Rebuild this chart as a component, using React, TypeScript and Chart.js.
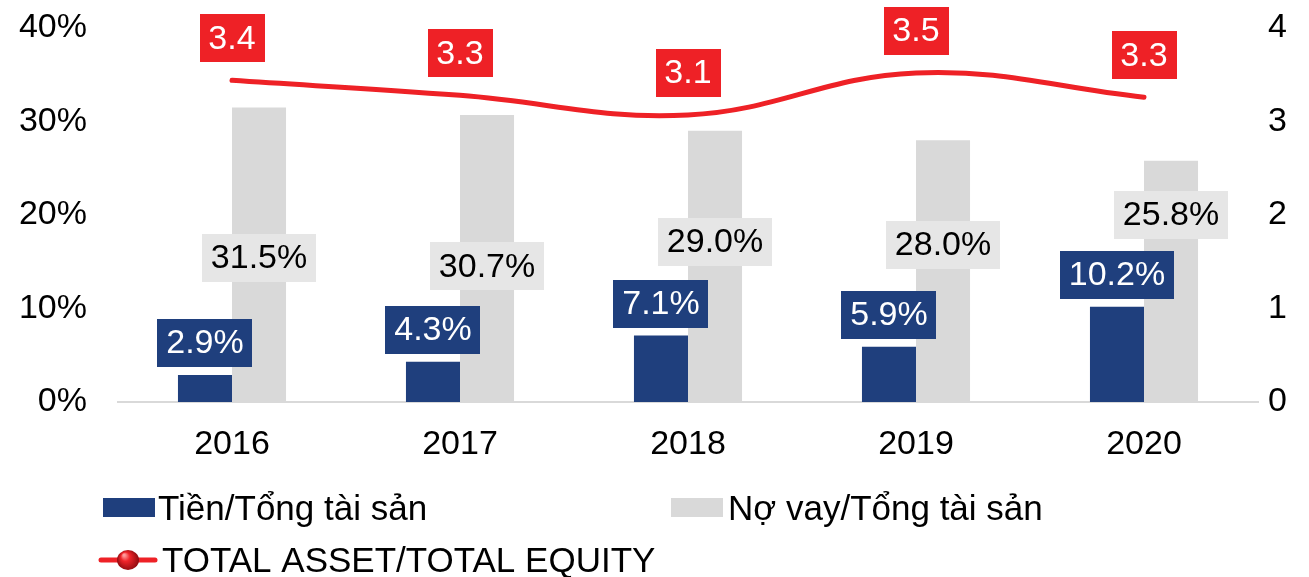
import React, { useEffect, useRef } from 'react';
import { Chart, registerables } from 'chart.js';

Chart.register(...registerables);

// ---- data ----
const years = ['2016', '2017', '2018', '2019', '2020'];
const cashToAssets = [2.9, 4.3, 7.1, 5.9, 10.2]; // Tiền/Tổng tài sản (%)
const debtToAssets = [31.5, 30.7, 29.0, 28.0, 25.8]; // Nợ vay/Tổng tài sản (%)
const assetToEquity = [3.44, 3.28, 3.07, 3.52, 3.26]; // TOTAL ASSET/TOTAL EQUITY
const leftTickValues = [0, 10, 20, 30, 40];
const rightTickValues = [0, 1, 2, 3, 4];
// where the grey value boxes sit (in % units of the left axis)
const debtLabelAnchor = [15.4, 14.5, 17.1, 16.8, 20.0];

const seriesNames = ['Tiền/Tổng tài sản', 'Nợ vay/Tổng tài sản', 'TOTAL ASSET/TOTAL EQUITY'];

// ---- styles ----
const FONT = '"Liberation Sans", Arial, sans-serif';
const NAVY = '#1F3F7D';
const BAR_GRAY = '#D9D9D9';
const LABEL_GRAY = '#E6E6E6';
const RED = '#EE2126';

const valueBoxes = {
  id: 'valueBoxes',
  afterDatasetsDraw(chart: any) {
    const ctx = chart.ctx;
    const yScale = chart.scales.y;
    ctx.save();
    ctx.font = `34px ${FONT}`;
    ctx.textAlign = 'center';
    ctx.textBaseline = 'middle';
    const box = (cx: number, cy: number, text: string, fill: string, color: string) => {
      const w = Math.round(ctx.measureText(text).width + 18);
      const h = 48;
      ctx.fillStyle = fill;
      ctx.fillRect(Math.round(cx - w / 2), Math.round(cy - h / 2), w, h);
      ctx.fillStyle = color;
      ctx.fillText(text, cx, cy + 1);
    };
    chart.getDatasetMeta(0).data.forEach((el: any, i: number) => {
      box(el.x, el.y - 8 - 24, cashToAssets[i].toFixed(1) + '%', NAVY, '#FFFFFF');
    });
    chart.getDatasetMeta(1).data.forEach((el: any, i: number) => {
      box(el.x, yScale.getPixelForValue(debtLabelAnchor[i]), debtToAssets[i].toFixed(1) + '%', LABEL_GRAY, '#000000');
    });
    chart.getDatasetMeta(2).data.forEach((el: any, i: number) => {
      box(el.x, el.y - 42, assetToEquity[i].toFixed(1), RED, '#FFFFFF');
    });
    ctx.restore();
  },
};

const customLegend = {
  id: 'customLegend',
  afterDraw(chart: any) {
    const ctx = chart.ctx;
    ctx.save();
    ctx.font = `35px ${FONT}`;
    ctx.textAlign = 'left';
    ctx.textBaseline = 'alphabetic';
    // row 1
    ctx.fillStyle = NAVY;
    ctx.fillRect(103, 498, 52, 19);
    ctx.fillStyle = '#000000';
    ctx.fillText(seriesNames[0], 158, 520);
    ctx.fillStyle = BAR_GRAY;
    ctx.fillRect(671, 498, 52, 19);
    ctx.fillStyle = '#000000';
    ctx.fillText(seriesNames[1], 728, 520);
    // row 2
    ctx.strokeStyle = RED;
    ctx.lineWidth = 5;
    ctx.lineCap = 'round';
    ctx.beginPath();
    ctx.moveTo(101, 560);
    ctx.lineTo(155, 560);
    ctx.stroke();
    const g = ctx.createRadialGradient(124, 555, 1, 128, 560, 11);
    g.addColorStop(0, '#FF9A9A');
    g.addColorStop(0.35, '#F0252A');
    g.addColorStop(1, '#8E0A0E');
    ctx.fillStyle = g;
    ctx.beginPath();
    ctx.ellipse(128, 560, 11, 10, 0, 0, Math.PI * 2);
    ctx.fill();
    ctx.fillStyle = '#000000';
    ctx.fillText(seriesNames[2], 162, 572);
    ctx.restore();
  },
};

export default function App() {
  const canvasRef = useRef<HTMLCanvasElement | null>(null);

  useEffect(() => {
    if (!canvasRef.current) return;
    const chart = new Chart(canvasRef.current, {
      type: 'bar',
      data: {
        labels: years,
        datasets: [
          {
            type: 'bar',
            label: seriesNames[0],
            data: cashToAssets,
            backgroundColor: NAVY,
            yAxisID: 'y',
            order: 1,
            categoryPercentage: 0.474,
            barPercentage: 1,
          },
          {
            type: 'bar',
            label: seriesNames[1],
            data: debtToAssets,
            backgroundColor: BAR_GRAY,
            yAxisID: 'y',
            order: 1,
            categoryPercentage: 0.474,
            barPercentage: 1,
          },
          {
            type: 'line',
            label: seriesNames[2],
            data: assetToEquity,
            borderColor: RED,
            backgroundColor: RED,
            borderWidth: 5,
            borderCapStyle: 'round',
            tension: 0.4,
            pointRadius: 0,
            pointHoverRadius: 0,
            yAxisID: 'y1',
            order: 0,
          },
        ] as any,
      },
      options: {
        animation: false,
        responsive: false,
        maintainAspectRatio: false,
        layout: { padding: { top: 28, left: 0, right: 0, bottom: 0 } },
        plugins: {
          legend: { display: false },
          tooltip: { enabled: false },
        },
        scales: {
          x: {
            grid: { display: false, drawTicks: false },
            border: { display: true, color: BAR_GRAY, width: 2 },
            ticks: { color: '#000000', font: { family: FONT, size: 34 }, padding: 22 },
            afterFit: (s: any) => { s.height = 175; },
          },
          y: {
            position: 'left',
            min: 0,
            max: 40,
            afterBuildTicks: (s: any) => { s.ticks = leftTickValues.map((v) => ({ value: v })); },
            grid: { display: false, drawTicks: true, tickLength: 31 },
            border: { display: false },
            ticks: {
              color: '#000000',
              font: { family: FONT, size: 34 },
              padding: 0,
              callback: (v: any) => v + '%',
            },
            afterFit: (s: any) => { s.width = 118; },
          },
          y1: {
            position: 'right',
            min: 0,
            max: 4,
            afterBuildTicks: (s: any) => { s.ticks = rightTickValues.map((v) => ({ value: v })); },
            grid: { display: false, drawTicks: true, tickLength: 10 },
            border: { display: false },
            ticks: {
              color: '#000000',
              font: { family: FONT, size: 34 },
              padding: 0,
              callback: (v: any) => String(v),
            },
            afterFit: (s: any) => { s.width = 51; },
          },
        },
      } as any,
      plugins: [valueBoxes, customLegend],
    });
    return () => chart.destroy();
  }, []);

  return (
    <div style={{ position: 'absolute', left: 0, top: 0, width: 1309, height: 577 }}>
      <canvas ref={canvasRef} width={1309} height={577} style={{ display: 'block' }} />
    </div>
  );
}
